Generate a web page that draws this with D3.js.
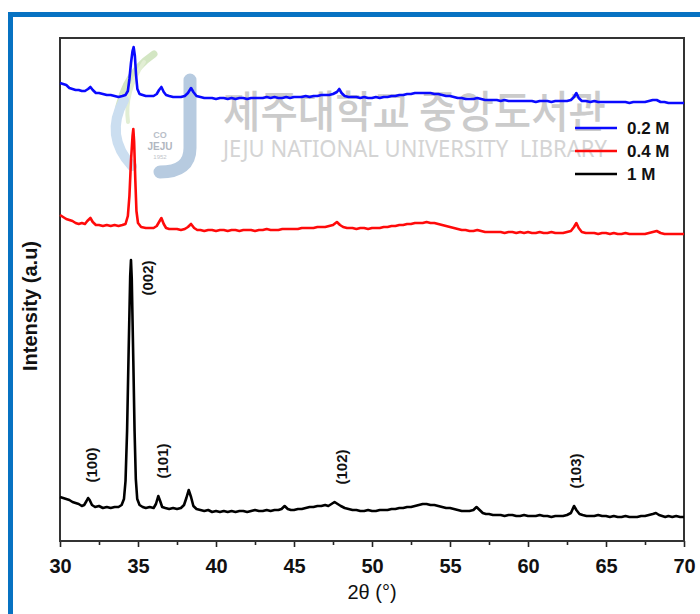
<!DOCTYPE html>
<html>
<head>
<meta charset="utf-8">
<script src="https://cdn.jsdelivr.net/npm/d3@7"></script>
<style>
  html, body { margin: 0; padding: 0; background: #fff; }
  svg { display: block; }
</style>
</head>
<body>
<svg id="chart" width="700" height="614"></svg>
<script>
// XRD patterns of films grown from 0.2 M, 0.4 M and 1 M precursor solutions.
// Each series: [2θ (degrees), intensity (a.u., stacked)]
const pattern02M = [[30.0,458],[30.2,457],[30.4,456],[30.6,453],[30.8,452],[31.0,451],[31.2,451],[31.4,450],[31.6,450],[31.8,452],[31.95,454],[32.1,451],[32.3,448],[32.5,448],[32.75,447],[33.0,446],[33.25,446],[33.5,445],[33.75,444],[34.0,445],[34.2,446],[34.35,450],[34.45,462],[34.55,478],[34.65,490],[34.72,494],[34.8,485],[34.88,465],[34.96,452],[35.1,447],[35.3,446],[35.5,445],[35.75,445],[36.0,445],[36.2,447],[36.35,451],[36.5,454],[36.65,449],[36.8,446],[37.0,445],[37.25,444],[37.5,444],[37.75,444],[38.0,445],[38.2,448],[38.4,453],[38.55,449],[38.75,445],[39.0,444],[39.25,443],[39.5,443],[39.75,443],[40.0,442],[40.25,443],[40.5,443],[40.75,442],[41.0,443],[41.25,442],[41.5,443],[41.75,443],[42.0,442],[42.25,443],[42.5,443],[42.75,443],[43.0,443],[43.25,444],[43.5,443],[43.75,444],[44.0,443],[44.25,443],[44.5,444],[44.75,443],[45.0,444],[45.25,444],[45.5,444],[45.75,445],[46.0,444],[46.25,445],[46.5,445],[46.75,446],[47.0,446],[47.25,446],[47.5,447],[47.75,449],[47.9,452],[48.05,448],[48.25,445],[48.5,444],[48.75,444],[49.0,444],[49.25,443],[49.5,444],[49.75,443],[50.0,443],[50.25,444],[50.5,443],[50.75,444],[51.0,444],[51.25,445],[51.5,445],[51.75,446],[52.0,446],[52.25,447],[52.5,447],[52.75,448],[53.0,448],[53.25,448],[53.5,448],[53.75,448],[54.0,447],[54.25,447],[54.5,446],[54.75,445],[55.0,445],[55.25,444],[55.5,443],[55.75,443],[56.0,442],[56.25,442],[56.5,442],[56.75,443],[57.0,442],[57.25,441],[57.5,441],[57.75,441],[58.0,441],[58.25,440],[58.5,441],[58.75,440],[59.0,440],[59.25,440],[59.5,440],[59.75,440],[60.0,440],[60.25,440],[60.5,439],[60.75,440],[61.0,440],[61.25,440],[61.5,439],[61.75,440],[62.0,440],[62.25,440],[62.5,440],[62.75,441],[62.95,444],[63.1,448],[63.25,443],[63.45,440],[63.7,440],[64.0,439],[64.25,440],[64.5,439],[64.75,439],[65.0,439],[65.25,439],[65.5,439],[65.75,439],[66.0,439],[66.25,439],[66.5,438],[66.75,439],[67.0,439],[67.25,439],[67.5,439],[67.75,440],[68.0,441],[68.25,441],[68.5,439],[68.75,439],[69.0,438],[69.25,438],[69.5,438],[69.75,438],[70.0,438]];

const pattern04M = [[30.0,326],[30.2,324],[30.4,322],[30.6,321],[30.8,320],[31.0,318],[31.2,317],[31.4,318],[31.6,317],[31.75,320],[31.95,323],[32.1,319],[32.3,316],[32.5,316],[32.75,315],[33.0,316],[33.25,315],[33.5,316],[33.75,315],[34.0,316],[34.2,317],[34.35,325],[34.45,345],[34.55,380],[34.65,405],[34.7,412],[34.75,400],[34.83,360],[34.9,330],[35.0,318],[35.2,314],[35.5,313],[35.75,313],[36.0,313],[36.2,315],[36.35,319],[36.5,323],[36.65,317],[36.8,313],[37.0,312],[37.25,312],[37.5,312],[37.75,311],[38.0,312],[38.2,314],[38.4,317],[38.6,313],[38.8,311],[39.0,311],[39.25,310],[39.5,311],[39.75,311],[40.0,310],[40.25,311],[40.5,311],[40.75,310],[41.0,311],[41.25,311],[41.5,310],[41.75,311],[42.0,311],[42.25,311],[42.5,310],[42.75,311],[43.0,311],[43.25,312],[43.5,311],[43.75,311],[44.0,311],[44.25,312],[44.5,312],[44.75,312],[45.0,312],[45.25,312],[45.5,313],[45.75,313],[46.0,313],[46.25,313],[46.5,314],[46.75,314],[47.0,314],[47.25,315],[47.5,316],[47.75,319],[47.95,316],[48.15,314],[48.4,313],[48.75,313],[49.0,312],[49.25,313],[49.5,313],[49.75,312],[50.0,313],[50.25,313],[50.5,313],[50.75,314],[51.0,314],[51.25,315],[51.5,315],[51.75,316],[52.0,316],[52.25,317],[52.5,317],[52.75,318],[53.0,318],[53.25,318],[53.5,319],[53.75,318],[54.0,318],[54.25,317],[54.5,316],[54.75,315],[55.0,314],[55.25,313],[55.5,312],[55.75,311],[56.0,311],[56.25,310],[56.5,310],[56.75,311],[57.0,310],[57.25,309],[57.5,309],[57.75,309],[58.0,309],[58.25,309],[58.5,308],[58.75,309],[59.0,309],[59.25,308],[59.5,309],[59.75,308],[60.0,309],[60.25,308],[60.5,308],[60.75,309],[61.0,308],[61.25,308],[61.5,309],[61.75,308],[62.0,308],[62.25,308],[62.5,309],[62.75,310],[62.95,314],[63.1,318],[63.25,313],[63.45,309],[63.7,308],[64.0,308],[64.25,308],[64.5,307],[64.75,308],[65.0,308],[65.25,307],[65.5,308],[65.75,307],[66.0,307],[66.25,308],[66.5,307],[66.75,307],[67.0,307],[67.25,307],[67.5,307],[67.75,308],[68.0,309],[68.25,310],[68.5,308],[68.75,307],[69.0,307],[69.25,307],[69.5,307],[69.75,307],[70.0,307]];

const pattern1M = [[30.0,44],[30.2,43],[30.4,42],[30.6,41],[30.8,39],[31.0,38],[31.2,37],[31.4,35],[31.55,36],[31.7,40],[31.8,43],[31.9,41],[32.05,36],[32.25,34],[32.5,35],[32.75,33],[33.0,34],[33.25,33],[33.5,34],[33.75,34],[33.95,36],[34.1,42],[34.2,60],[34.3,110],[34.4,190],[34.5,265],[34.55,281],[34.6,262],[34.7,180],[34.78,110],[34.86,62],[34.95,42],[35.1,36],[35.3,34],[35.5,33],[35.75,34],[36.0,33],[36.15,37],[36.3,45],[36.42,40],[36.55,34],[36.75,33],[37.0,32],[37.25,33],[37.5,32],[37.75,33],[37.95,36],[38.1,43],[38.25,51],[38.4,44],[38.55,35],[38.75,32],[39.0,31],[39.25,30],[39.5,31],[39.75,29],[40.0,30],[40.25,29],[40.5,30],[40.75,29],[41.0,30],[41.25,29],[41.5,30],[41.75,30],[42.0,29],[42.25,30],[42.5,31],[42.75,30],[43.0,30],[43.25,31],[43.5,30],[43.75,31],[44.0,31],[44.2,32],[44.4,35],[44.6,32],[44.8,31],[45.0,31],[45.25,32],[45.5,32],[45.75,33],[46.0,34],[46.25,34],[46.5,35],[46.75,35],[47.0,36],[47.2,35],[47.4,37],[47.6,39],[47.8,37],[48.0,35],[48.25,33],[48.5,32],[48.75,31],[49.0,31],[49.25,30],[49.5,30],[49.75,31],[50.0,30],[50.25,30],[50.5,31],[50.75,31],[51.0,31],[51.25,32],[51.5,32],[51.75,33],[52.0,33],[52.25,34],[52.5,34],[52.75,35],[53.0,36],[53.25,37],[53.5,37],[53.75,36],[54.0,36],[54.25,35],[54.5,34],[54.75,33],[55.0,33],[55.25,32],[55.5,31],[55.75,30],[56.0,30],[56.25,30],[56.5,31],[56.7,34],[56.9,31],[57.1,28],[57.3,27],[57.5,27],[57.75,26],[58.0,26],[58.25,26],[58.5,25],[58.75,26],[59.0,26],[59.25,25],[59.5,25],[59.75,26],[60.0,25],[60.25,25],[60.5,25],[60.75,26],[61.0,25],[61.25,25],[61.5,24],[61.75,25],[62.0,25],[62.25,25],[62.5,26],[62.75,28],[62.95,35],[63.1,31],[63.3,27],[63.5,26],[63.75,25],[64.0,25],[64.25,25],[64.5,26],[64.75,25],[65.0,25],[65.25,24],[65.5,25],[65.75,24],[66.0,24],[66.25,25],[66.5,24],[66.75,24],[67.0,24],[67.25,25],[67.5,25],[67.75,26],[68.0,27],[68.2,28],[68.4,26],[68.6,25],[68.8,24],[69.0,25],[69.25,24],[69.5,25],[69.75,24],[70.0,24]];

const seriesNames = ["0.2 M", "0.4 M", "1 M"];
const seriesColors = ["#0a0aff", "#ff0a0a", "#000000"];
const seriesData = [pattern02M, pattern04M, pattern1M];

// Miller indices of the 1 M reflections: [label, 2θ, intensity of label centre]
const reflections = [["(100)", 32.05, 76], ["(002)", 35.64, 263], ["(101)", 36.6, 80], ["(102)", 48.08, 74], ["(103)", 63.08, 70]];

const xMajorTicks = [30, 35, 40, 45, 50, 55, 60, 65, 70];
const xMinorTicks = [32.5, 37.5, 42.5, 47.5, 52.5, 57.5, 62.5, 67.5];

const FONT = "'Liberation Sans', Arial, Helvetica, sans-serif";
const svg = d3.select("#chart");

const plot = { left: 60, right: 684, top: 38, bottom: 541 };
const x = d3.scaleLinear().domain([30, 70]).range([plot.left, plot.right]);
const y = d3.scaleLinear().domain([0, 503]).range([plot.bottom, plot.top]);

// outer page frame
svg.append("rect")
  .attr("x", 10.5).attr("y", 14.5).attr("width", 800).attr("height", 700)
  .attr("fill", "none").attr("stroke", "#0772c2").attr("stroke-width", 5);

// library watermark behind the data
const wm = svg.append("g").attr("class", "watermark");
wm.append("path").attr("d", "M154,54 Q118,78 116,130")
  .attr("fill", "none").attr("stroke", "#d3e6c3").attr("stroke-width", 7).attr("stroke-linecap", "round");
wm.append("path").attr("d", "M144,62 Q124,92 128,122")
  .attr("fill", "none").attr("stroke", "#e2eed4").attr("stroke-width", 4).attr("stroke-linecap", "round");
wm.append("path").attr("d", "M124,100 Q104,136 132,166")
  .attr("fill", "none").attr("stroke", "#cbdef0").attr("stroke-width", 10).attr("stroke-linecap", "round");
wm.append("path").attr("d", "M190,80 L190,148 Q190,172 160,172")
  .attr("fill", "none").attr("stroke", "#b7cbe0").attr("stroke-width", 13).attr("stroke-linecap", "round");
wm.append("text").attr("x", 160).attr("y", 138).attr("text-anchor", "middle")
  .attr("font-family", FONT).attr("font-size", 9).attr("font-weight", "bold").attr("fill", "#b8bec8").text("CO");
wm.append("text").attr("x", 160).attr("y", 150).attr("text-anchor", "middle")
  .attr("font-family", FONT).attr("font-size", 10).attr("font-weight", "bold").attr("fill", "#b0b6c0").text("JEJU");
wm.append("text").attr("x", 160).attr("y", 159).attr("text-anchor", "middle")
  .attr("font-family", FONT).attr("font-size", 6).attr("fill", "#c0c4ca").text("1952");
wm.append("text").attr("x", 223).attr("y", 128)
  .attr("font-family", "'Noto Sans CJK KR', sans-serif").attr("font-size", 44).attr("font-weight", 500)
  .attr("fill", "#cbcbcb").attr("textLength", 383).attr("lengthAdjust", "spacingAndGlyphs")
  .text("제주대학교 중앙도서관");
wm.append("text").attr("x", 223).attr("y", 157)
  .attr("font-family", "'Noto Sans', sans-serif").attr("font-size", 24)
  .attr("fill", "#d4d4d4").attr("textLength", 384).attr("lengthAdjust", "spacingAndGlyphs")
  .attr("xml:space", "preserve").style("white-space", "pre")
  .text("JEJU NATIONAL UNIVERSITY  LIBRARY");

// x axis with major and minor ticks
const axisG = svg.append("g").attr("transform", `translate(0,${plot.bottom})`);
axisG.call(d3.axisBottom(x).tickValues(xMajorTicks).tickSize(6).tickPadding(12).tickFormat(d3.format("d")));
axisG.append("g").call(d3.axisBottom(x).tickValues(xMinorTicks).tickSize(4).tickFormat(""));
axisG.selectAll(".domain").remove();
axisG.selectAll("line").attr("stroke", "#222").attr("stroke-width", 1.6);
axisG.selectAll("text").attr("font-family", FONT).attr("font-size", 20)
  .attr("font-weight", "bold").attr("fill", "#111");

// plot frame
svg.append("rect")
  .attr("x", plot.left).attr("y", plot.top)
  .attr("width", plot.right - plot.left).attr("height", plot.bottom - plot.top)
  .attr("fill", "none").attr("stroke", "#333").attr("stroke-width", 2);

// diffraction traces
const line = d3.line().x(d => x(d[0])).y(d => y(d[1]));
svg.append("g").selectAll("path").data(seriesData).join("path")
  .attr("d", line)
  .attr("fill", "none")
  .attr("stroke", (d, i) => seriesColors[i])
  .attr("stroke-width", 2.6)
  .attr("stroke-linejoin", "round");

// reflection labels
svg.append("g").selectAll("text").data(reflections).join("text")
  .attr("transform", d => `translate(${x(d[1])},${y(d[2])}) rotate(-90)`)
  .attr("text-anchor", "middle").attr("dy", "0.36em")
  .attr("font-family", FONT).attr("font-size", 15).attr("font-weight", "bold").attr("fill", "#111")
  .text(d => d[0]);

// axis titles
svg.append("text").attr("x", (plot.left + plot.right) / 2).attr("y", 599)
  .attr("text-anchor", "middle").attr("font-family", FONT).attr("font-size", 20).attr("fill", "#111")
  .text("2θ (°)");
svg.append("text").attr("transform", `translate(30,306) rotate(-90)`)
  .attr("text-anchor", "middle").attr("dy", "0.36em")
  .attr("font-family", FONT).attr("font-size", 20).attr("font-weight", "bold").attr("fill", "#111")
  .text("Intensity (a.u)");

// legend
const legend = svg.append("g").attr("transform", "translate(575,128)");
const items = legend.selectAll("g").data(seriesNames).join("g")
  .attr("transform", (d, i) => `translate(0,${i * 23})`);
items.append("line").attr("x1", 0).attr("x2", 42).attr("y1", 0).attr("y2", 0)
  .attr("stroke", (d, i) => seriesColors[i]).attr("stroke-width", 2.4);
items.append("text").attr("x", 52).attr("dy", "0.36em")
  .attr("font-family", FONT).attr("font-size", 17).attr("font-weight", "bold").attr("fill", "#111")
  .text(d => d);
</script>
</body>
</html>
